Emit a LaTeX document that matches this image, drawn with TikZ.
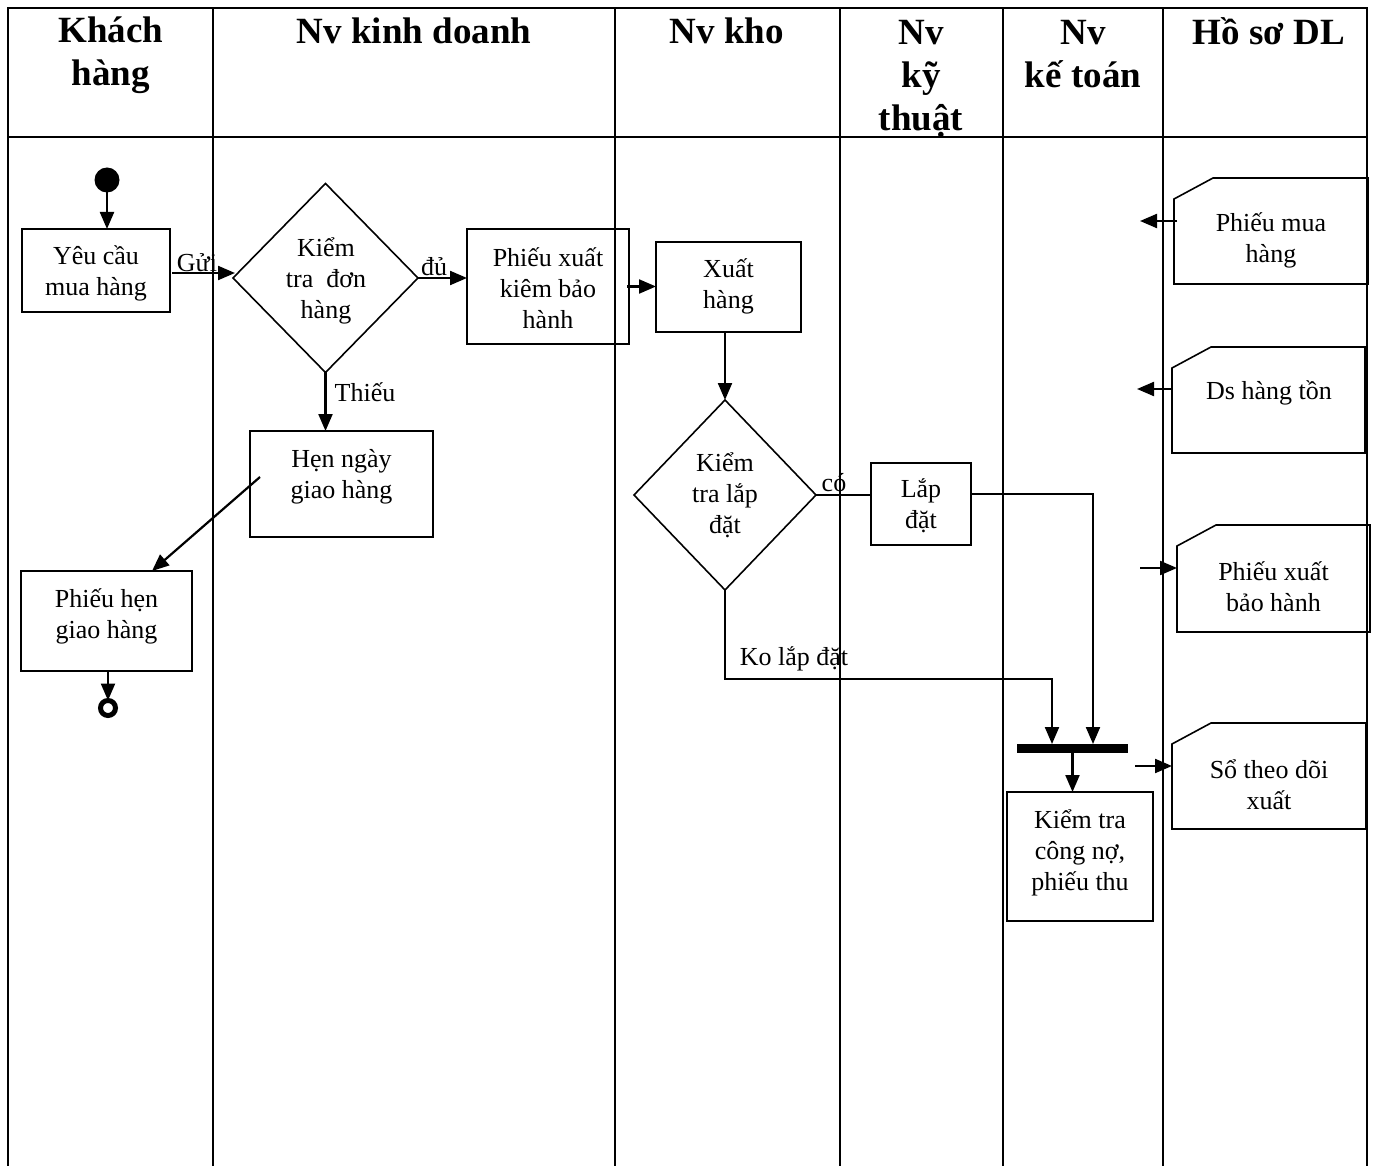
\documentclass[tikz,border=0pt]{standalone}
\usepackage{fontspec}
\setmainfont{Liberation Serif}
\usetikzlibrary{arrows.meta,shapes.geometric,calc}
\begin{document}
\begin{tikzpicture}[x=1pt,y=-1pt,
  every node/.style={inner sep=0pt,outer sep=0pt},
  lane/.style={line width=2pt},
  box/.style={draw,line width=1.6pt,rectangle},
  dec/.style={draw,line width=1.6pt,diamond},
  docbox/.style={rectangle},
  txt/.style={align=center,font=\fontsize{26}{31}\selectfont},
  head/.style={align=center,font=\fontsize{37}{43}\selectfont\bfseries},
  flow/.style={line width=2.2pt},
  arr/.style={line width=2.2pt,-{Triangle[length=17pt,width=14pt]}}]
\useasboundingbox (0,0) rectangle (1382,1166);

% swimlane grid
\draw[lane] (8,1166) -- (8,8) -- (1367,8) -- (1367,1166);
\draw[lane] (8,137) -- (1367,137);
\foreach \x in {213,615,840,1003,1163} \draw[lane] (\x,8) -- (\x,1166);

% lane headings
\node[head] (h1) at (111,55) {Khách\\hàng};
\node[head] (h2) at (414,31) {Nv kinh doanh};
\node[head] (h3) at (727,31) {Nv kho};
\node[head] (h4) at (921,79) {Nv\\kỹ\\thuật};
\node[head] (h5) at (1083,54) {Nv\\kế toán};
\node[head] (h6) at (1269,31) {Hồ sơ DL};

% activities
\node[circle,fill,minimum size=25pt] (start) at (107,180) {};
\node[box,minimum width=148pt,minimum height=83pt] (yc) at (96,270.5) {};
\node[txt] (yct) at (96,273) {Yêu cầu\\mua hàng};
\node[dec,minimum width=185pt,minimum height=189pt] (d1) at (325.5,278) {};
\node[txt] (d1t) at (326,280.5) {Kiểm\\tra\ \ đơn\\hàng};
\node[box,minimum width=162pt,minimum height=115pt] (px) at (548,286.5) {};
\node[txt] (pxt) at (548,288) {Phiếu xuất\\kiêm bảo\\hành};
\node[box,minimum width=145pt,minimum height=90pt] (xh) at (728.5,287) {};
\node[txt] (xht) at (728.5,286.5) {Xuất\\hàng};
\node[dec,minimum width=182pt,minimum height=190pt] (d2) at (725,495) {};
\node[txt] (d2t) at (725,495) {Kiểm\\tra lắp\\đặt};
\node[box,minimum width=100pt,minimum height=82pt] (ld) at (921,504) {};
\node[txt] (ldt) at (921,506) {Lắp\\đặt};
\node[box,minimum width=183pt,minimum height=106pt] (hn) at (341.5,484) {};
\node[txt] (hnt) at (341.5,477) {Hẹn ngày\\giao hàng};
\node[box,minimum width=171pt,minimum height=100pt] (ph) at (106.5,621) {};
\node[txt] (pht) at (106.5,616.5) {Phiếu hẹn\\giao hàng};
\node[circle,draw,line width=5pt,minimum size=15pt] (fin) at (108,708) {};
\node[fill,minimum width=111pt,minimum height=9pt] (bar) at (1072.5,748.5) {};
\node[box,minimum width=146pt,minimum height=129pt] (kt) at (1080,856.5) {};
\node[txt] (ktt) at (1080,853) {Kiểm tra\\công nợ,\\phiếu thu};

% data documents
\node[docbox,minimum width=194pt,minimum height=106pt] (pm) at (1271,231) {};
\node[docbox,minimum width=193pt,minimum height=106pt] (ds) at (1268.5,400) {};
\node[docbox,minimum width=193pt,minimum height=107pt] (pb) at (1273.5,578.5) {};
\node[docbox,minimum width=194pt,minimum height=106pt] (sd) at (1269,776) {};
\foreach \d in {pm,ds,pb,sd}
  \draw[line width=1.6pt] ($(\d.north west)+(0,21)$) -- ($(\d.north west)+(39,0)$)
    -- (\d.north east) -- (\d.south east) -- (\d.south west) -- cycle;
\node[txt] (pmt) at (1271,240) {Phiếu mua\\hàng};
\node[txt] (dst) at (1269,393) {Ds hàng tồn};
\node[txt] (pbt) at (1273.5,586.5) {Phiếu xuất\\bảo hành};
\node[txt] (sdt) at (1269,784.5) {Sổ theo dõi\\xuất};

% control flow
\draw[arr] (start.south) -- (start.south |- yc.north);
\draw[arr] ($(yc.east)+(2,2.5)$) -- ($(d1.west)+(2,-5)$);
\node[txt] (lg) at (197,263) {Gửi};
\draw[arr] (d1.east) -- (d1.east -| px.west);
\node[txt] (ldu) at (434,267) {đủ};
\draw[arr] (d1.south) -- (d1.south |- hn.north);
\node[txt] (lth) at (365,392) {Thiếu};
\draw[arr] ($(px.east)+(-2,0)$) -- (px.east -| xh.west);
\draw[arr] (xh.south -| d2.north) -- (d2.north);
\draw[line width=2.6pt] (d2.east) -- (d2.east -| ld.west);
\node[txt] (lco) at (834,483) {có};
\coordinate (c1) at (1093,494);
\draw[arr] ($(ld.east)+(0,-10)$) -- (c1) -- (c1 |- bar.north);
\coordinate (c2) at (1052,679);
\draw[arr] (d2.south) -- (d2.south |- c2) -- (c2) -- (c2 |- bar.north);
\node[txt] (lko) at (794,659) {Ko lắp đặt};
\draw[arr] (bar.south) -- (bar.south |- kt.north);
\draw[arr] ($(hn.west)+(10,-7)$) -- ($(ph.north)+(45.5,0)$);
\draw[arr] (ph.south -| fin.north) -- (fin.north);

% document links
\coordinate (e1) at (1140,221);
\draw[arr] ($(pm.west |- e1)+(3,0)$) -- (e1);
\coordinate (e2) at (1137,389);
\draw[arr] (ds.west |- e2) -- (e2);
\coordinate (e3) at (1140,568);
\draw[arr] (e3) -- (e3 -| pb.west);
\coordinate (e4) at (1135,766);
\draw[arr] (e4) -- (e4 -| sd.west);
\end{tikzpicture}
\end{document}
